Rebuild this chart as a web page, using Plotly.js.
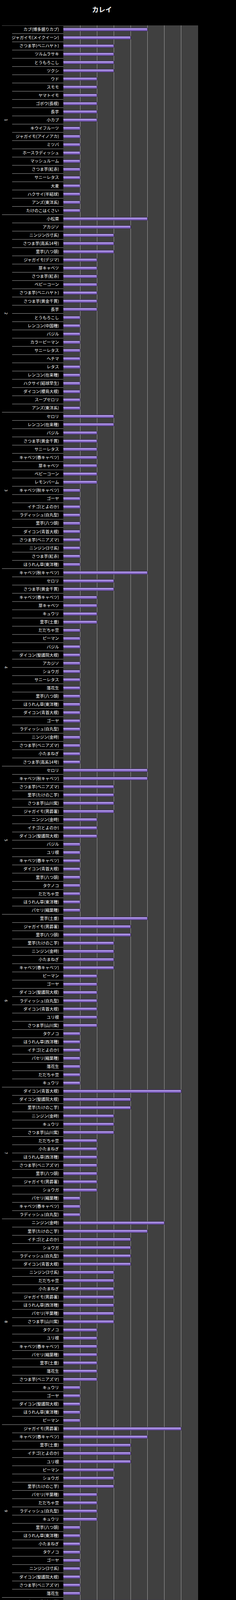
<!DOCTYPE html>
<html>
<head>
<meta charset="utf-8">
<script src="https://cdn.plot.ly/plotly-3.0.1.min.js"></script>
<style>
  html, body { margin: 0; padding: 0; background: #000; }
  #chart { width: 604px; height: 4566px; }
</style>
</head>
<body>
<div id="chart"></div>
<script>
// ---- data ----
const groupNames = ['1', '2', '3', '4', '5', '6', '7', '8', '9', '10'];

const g1Labels = ['カブ(博多据りカブ)', 'ジャガイモ(メイクイーン)', 'さつま芋(ベニハヤト)', 'ツルムラサキ', 'とうもろこし', 'ツクシ', 'ウド', 'スモモ', 'ヤマトイモ', 'ゴボウ(長根)', '長芋', '小カブ', 'キウイフルーツ', 'ジャガイモ(アイノアカ)', 'ミツバ', 'ホースラディッシュ', 'マッシュルーム', 'さつま芋(紅赤)', 'サニーレタス', '大麦', 'ハクサイ(半結球)', 'アンズ(東洋系)', 'たけのこはくさい'];
const g1Values = [5, 4, 3, 3, 3, 3, 2, 2, 2, 2, 2, 2, 1, 1, 1, 1, 1, 1, 1, 1, 1, 1, 1];

const g2Labels = ['小松菜', 'アカジソ', 'ニンジン(5寸系)', 'さつま芋(高系14号)', '里芋(八つ頭)', 'ジャガイモ(デジマ)', '芽キャベツ', 'さつま芋(紅赤)', 'ベビーコーン', 'さつま芋(ベニハヤト)', 'さつま芋(黄金千貫)', '長芋', 'とうもろこし', 'レンコン(中国種)', 'バジル', 'カラーピーマン', 'サニーレタス', 'ヘチマ', 'レタス', 'レンコン(在来種)', 'ハクサイ(結球早生)', 'ダイコン(櫻島大根)', 'スープセロリ', 'アンズ(東洋系)'];
const g2Values = [5, 4, 3, 3, 3, 2, 2, 2, 2, 2, 2, 2, 1, 1, 1, 1, 1, 1, 1, 1, 1, 1, 1, 1];

const g3Labels = ['セロリ', 'レンコン(在来種)', 'バジル', 'さつま芋(黄金千貫)', 'サニーレタス', 'キャベツ(春キャベツ)', '芽キャベツ', 'ベビーコーン', 'レモンバーム', 'キャベツ(秋キャベツ)', 'ゴーヤ', 'イチゴ(とよのか)', 'ラディッシュ(白丸型)', '里芋(八つ頭)', 'ダイコン(青首大根)', 'さつま芋(ベニアズマ)', 'ニンジン(3寸系)', 'さつま芋(紅赤)', 'ほうれん草(東洋種)'];
const g3Values = [3, 3, 2, 2, 2, 2, 2, 2, 2, 1, 1, 1, 1, 1, 1, 1, 1, 1, 1];

const g4Labels = ['キャベツ(秋キャベツ)', 'セロリ', 'さつま芋(黄金千貫)', 'キャベツ(春キャベツ)', '芽キャベツ', 'キュウリ', '里芋(土垂)', 'だだちゃ豆', 'ピーマン', 'バジル', 'ダイコン(聖護院大根)', 'アカジソ', 'ショウガ', 'サニーレタス', '落花生', '里芋(八つ頭)', 'ほうれん草(東洋種)', 'ダイコン(青首大根)', 'ゴーヤ', 'ラディッシュ(白丸型)', 'ニンジン(金時)', 'さつま芋(ベニアズマ)', '小たまねぎ', 'さつま芋(高系14号)'];
const g4Values = [5, 3, 3, 2, 2, 2, 2, 1, 1, 1, 1, 1, 1, 1, 1, 1, 1, 1, 1, 1, 1, 1, 1, 1];

const g5Labels = ['セロリ', 'キャベツ(秋キャベツ)', 'さつま芋(ベニアズマ)', '里芋(たけのこ芋)', 'さつま芋(山川紫)', 'ジャガイモ(男爵薯)', 'ニンジン(金時)', 'イチゴ(とよのか)', 'ダイコン(聖護院大根)', 'バジル', 'ユリ根', 'キャベツ(春キャベツ)', 'ダイコン(青首大根)', '里芋(八つ頭)', 'タケノコ', 'だだちゃ豆', 'ほうれん草(東洋種)', 'パセリ(縮葉種)'];
const g5Values = [5, 5, 3, 3, 3, 3, 2, 2, 2, 1, 1, 1, 1, 1, 1, 1, 1, 1];

const g6Labels = ['里芋(土垂)', 'ジャガイモ(男爵薯)', '里芋(八つ頭)', '里芋(たけのこ芋)', 'ニンジン(金時)', '小たまねぎ', 'キャベツ(春キャベツ)', 'ピーマン', 'ゴーヤ', 'ダイコン(聖護院大根)', 'ラディッシュ(白丸型)', 'ダイコン(青首大根)', 'ユリ根', 'さつま芋(山川紫)', 'タケノコ', 'ほうれん草(西洋種)', 'イチゴ(とよのか)', 'パセリ(縮葉種)', '落花生', 'だだちゃ豆', 'キュウリ'];
const g6Values = [5, 4, 4, 3, 3, 3, 3, 2, 2, 2, 2, 2, 2, 2, 1, 1, 1, 1, 1, 1, 1];

const g7Labels = ['ダイコン(青首大根)', 'ダイコン(聖護院大根)', '里芋(たけのこ芋)', 'ニンジン(金時)', 'キュウリ', 'さつま芋(山川紫)', 'だだちゃ豆', '小たまねぎ', 'ほうれん草(西洋種)', 'さつま芋(ベニアズマ)', '里芋(八つ頭)', 'ジャガイモ(男爵薯)', 'ショウガ', 'パセリ(縮葉種)', 'キャベツ(春キャベツ)', 'ラディッシュ(白丸型)'];
const g7Values = [7, 4, 4, 3, 3, 3, 2, 2, 2, 2, 2, 2, 2, 1, 1, 1];

const g8Labels = ['ニンジン(金時)', '里芋(たけのこ芋)', 'イチゴ(とよのか)', 'ショウガ', 'ラディッシュ(白丸型)', 'ダイコン(青首大根)', 'ニンジン(3寸系)', 'だだちゃ豆', '小たまねぎ', 'ジャガイモ(男爵薯)', 'ほうれん草(西洋種)', 'パセリ(平葉種)', 'さつま芋(山川紫)', 'タケノコ', 'ユリ根', 'キャベツ(春キャベツ)', 'パセリ(縮葉種)', '里芋(土垂)', '落花生', 'さつま芋(ベニアズマ)', 'キュウリ', 'ゴーヤ', 'ダイコン(聖護院大根)', 'ほうれん草(東洋種)', 'ピーマン'];
const g8Values = [6, 5, 4, 4, 4, 4, 3, 3, 3, 3, 3, 3, 3, 2, 2, 2, 2, 2, 2, 2, 1, 1, 1, 1, 1];

const g9Labels = ['ジャガイモ(男爵薯)', 'キャベツ(春キャベツ)', '里芋(土垂)', 'イチゴ(とよのか)', 'ユリ根', 'ピーマン', 'ショウガ', '里芋(たけのこ芋)', 'パセリ(平葉種)', 'だだちゃ豆', 'ラディッシュ(白丸型)', 'キュウリ', '里芋(八つ頭)', 'ほうれん草(東洋種)', '小たまねぎ', 'タケノコ', 'ゴーヤ', 'ニンジン(3寸系)', 'ダイコン(聖護院大根)', 'さつま芋(ベニアズマ)', '落花生'];
const g9Values = [7, 5, 4, 4, 4, 3, 3, 3, 2, 2, 2, 2, 1, 1, 1, 1, 1, 1, 1, 1, 1];

const g10Labels = ['さつま芋(山川紫)', 'ニンジン(金時)', 'キャベツ(春キャベツ)', 'ユリ根', 'ゴーヤ', 'パセリ(平葉種)', 'ニンジン(3寸系)', 'ダイコン(聖護院大根)', 'ピーマン', 'タケノコ', 'ほうれん草(西洋種)', 'ショウガ', 'ほうれん草(東洋種)', '里芋(土垂)', '小たまねぎ', 'ジャガイモ(男爵薯)', 'ラディッシュ(白丸型)', 'キュウリ', '落花生', 'イチゴ(とよのか)', 'さつま芋(ベニアズマ)'];
const g10Values = [6, 5, 5, 5, 3, 3, 3, 3, 3, 2, 2, 2, 2, 2, 2, 2, 2, 2, 1, 1, 1];

const xTicks = [0, 1, 2, 3, 4, 5, 6, 7, 8];

// ---- build ----
const groupLabels = [g1Labels, g2Labels, g3Labels, g4Labels, g5Labels, g6Labels, g7Labels, g8Labels, g9Labels, g10Labels];
const groupValues = [g1Values, g2Values, g3Values, g4Values, g5Values, g6Values, g7Values, g8Values, g9Values, g10Values];

const ys = [], xs = [], texts = [];
const groupStarts = [];
let k = 0;
groupLabels.forEach((labs, gi) => {
  groupStarts.push(k);
  labs.forEach((lab, i) => {
    ys.push(k);
    xs.push(groupValues[gi][i]);
    texts.push(lab);
    k++;
  });
});
const N = k;

const W = 604, H = 4566;
const mL = 162, mR = 97, mT = 65, mB = 34;
const plotW = W - mL - mR;
const shortX = (31 - mL) / plotW;
const longX = (5 - mL) / plotW;
const grpLabelX = (15 - mL) / plotW;

const shapes = [];
const lineStyle = { color: '#a8a8a8', width: 1 };
for (let b = 0; b <= N; b++) {
  const isGroup = groupStarts.includes(b) || b === N;
  shapes.push({
    type: 'line', xref: 'paper', yref: 'y',
    x0: isGroup ? longX : shortX, x1: 0,
    y0: b - 0.5, y1: b - 0.5,
    line: lineStyle, layer: 'above'
  });
}

const annotations = groupNames.map((g, gi) => {
  const start = groupStarts[gi];
  const end = gi + 1 < groupStarts.length ? groupStarts[gi + 1] : N;
  return {
    xref: 'paper', yref: 'y',
    x: grpLabelX, y: (start + end - 1) / 2,
    text: g, showarrow: false, textangle: 90,
    font: { family: 'DejaVu Sans', size: 9, color: '#ffffff' },
    xanchor: 'center', yanchor: 'middle'
  };
});

const mainTrace = {
  type: 'bar', orientation: 'h',
  x: xs, y: ys, width: 0.36,
  marker: { color: '#8466c4', line: { color: '#3a2b58', width: 1 } },
  hoverinfo: 'skip'
};
const hiTrace = {
  type: 'bar', orientation: 'h',
  x: xs.map(v => v - 0.04), y: ys, width: 0.11, offset: -0.13,
  marker: { color: '#bba5f0', line: { width: 0 } },
  hoverinfo: 'skip'
};

const layout = {
  width: W, height: H,
  autosize: false,
  paper_bgcolor: '#000000',
  plot_bgcolor: '#404040',
  margin: { l: mL, r: mR, t: mT, b: mB, pad: 0, autoexpand: false },
  barmode: 'overlay',
  showlegend: false,
  title: {
    text: 'カレイ',
    xref: 'container', yref: 'container',
    x: 261 / W, y: 1 - 25 / H,
    xanchor: 'center', yanchor: 'middle',
    font: { family: 'Noto Sans CJK JP', size: 17, color: '#ffffff', weight: 'bold' }
  },
  xaxis: {
    range: [0, 8],
    tickvals: xTicks,
    ticktext: xTicks.map(String),
    showgrid: true, gridcolor: '#a0a0a0', gridwidth: 1,
    zeroline: false,
    showline: true, linecolor: '#a8a8a8', linewidth: 1,
    ticks: 'outside', ticklen: 4, tickcolor: '#a8a8a8',
    tickfont: { family: 'DejaVu Sans', size: 9, color: '#ffffff' },
    automargin: false,
    fixedrange: true
  },
  yaxis: {
    range: [N - 0.5, -0.5],
    tickvals: ys,
    ticktext: texts,
    showgrid: false, zeroline: false, showline: false,
    ticks: '',
    ticklabelstandoff: 10,
    tickfont: { family: 'Noto Sans CJK JP', size: 10.5, color: '#ffffff' },
    automargin: false,
    fixedrange: true
  },
  shapes: shapes,
  annotations: annotations
};

Plotly.newPlot('chart', [mainTrace, hiTrace], layout, { displayModeBar: false, staticPlot: true });
</script>
</body>
</html>
